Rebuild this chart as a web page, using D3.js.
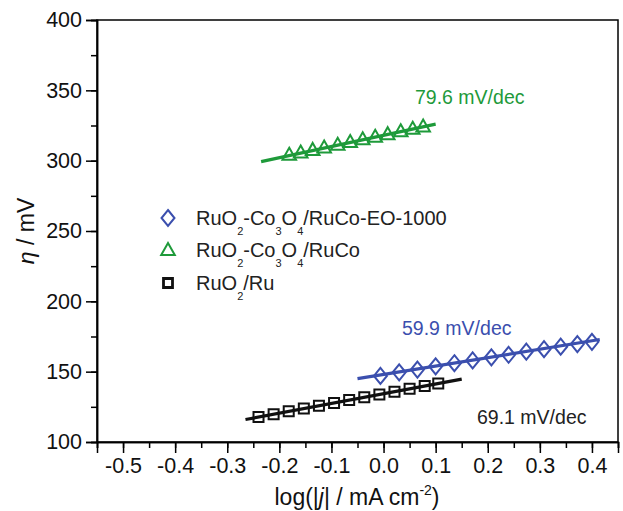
<!DOCTYPE html>
<html><head><meta charset="utf-8">
<script src="https://cdn.jsdelivr.net/npm/d3@7"></script>
<style>
html,body{margin:0;padding:0;background:#fff;}
svg{display:block;font-family:"Liberation Sans",Arial,sans-serif;}
</style></head>
<body>
<svg id="c" width="623" height="511"></svg>
<script>
// ---- data ----
const xTicks = [-0.5,-0.4,-0.3,-0.2,-0.1,0.0,0.1,0.2,0.3,0.4];
const yTicks = [100,150,200,250,300,350,400];

const blueX = [-0.006,0.030,0.065,0.100,0.136,0.171,0.207,0.240,0.274,0.308,0.340,0.372,0.400];
const blueY = [147.0,149.5,151.5,153.8,156.0,158.0,160.2,162.0,164.2,166.0,167.8,169.6,171.2];
const blueFit = {x:[-0.05,0.415], slope:59.9, b:148.0};

const greenX = [-0.181,-0.159,-0.136,-0.114,-0.088,-0.064,-0.040,-0.016,0.008,0.033,0.056,0.076];
const greenY = [303.8,305.5,307.3,309.0,311.0,312.9,314.8,316.6,318.5,320.5,322.3,324.0];
const greenFit = {x:[-0.235,0.10], slope:79.6, b:318.0};

const blackX = [-0.240,-0.211,-0.182,-0.153,-0.124,-0.095,-0.066,-0.037,-0.008,0.021,0.050,0.079,0.105];
const blackY = [117.8,119.8,121.8,123.8,125.8,127.8,129.8,131.8,133.8,135.8,137.8,139.8,141.6];
const blackFit = {x:[-0.265,0.15], slope:69.1, b:134.3};

const legendLabels = [
  [["RuO",0],["2",1],["-Co",0],["3",1],["O",0],["4",1],["/RuCo-EO-1000",0]],
  [["RuO",0],["2",1],["-Co",0],["3",1],["O",0],["4",1],["/RuCo",0]],
  [["RuO",0],["2",1],["/Ru",0]]
];
const slopeLabels = ["59.9 mV/dec","79.6 mV/dec","69.1 mV/dec"];

const BLUE="#3b4fae", GREEN="#1e9a3a", BLACK="#111";

// ---- layout ----
const L=97, R=618, T=20, B=442;
const svg = d3.select("#c");
const x = d3.scaleLinear().domain([-0.55,0.45]).range([L,R]);
const y = d3.scaleLinear().domain([100,400]).range([B,T]);

// frame
svg.append("rect").attr("x",L).attr("y",T).attr("width",R-L).attr("height",B-T)
  .attr("fill","none").attr("stroke","#000").attr("stroke-width",1.5);

// axes
const xMinor = d3.range(-0.55,0.451,0.05);
const yMinor = d3.range(100,401,25);
const gx = svg.append("g").attr("transform",`translate(0,${B})`);
gx.call(d3.axisBottom(x).tickValues(xMinor).tickSize(6).tickFormat(""));
gx.append("g").call(d3.axisBottom(x).tickValues(xTicks).tickSize(11).tickPadding(5).tickFormat(d=>d.toFixed(1)));
gx.selectAll("path.domain").attr("stroke-width",1.5);
gx.selectAll("line").attr("stroke-width",1.5);
gx.selectAll("text").attr("font-size",21.5).attr("fill","#111").attr("font-family","Liberation Sans, Arial, sans-serif");

const gy = svg.append("g").attr("transform",`translate(${L},0)`);
gy.call(d3.axisLeft(y).tickValues(yMinor).tickSize(6).tickFormat(""));
gy.append("g").call(d3.axisLeft(y).tickValues(yTicks).tickSize(11).tickPadding(4).tickFormat(d=>String(d)));
gy.selectAll("path.domain").attr("stroke-width",1.5);
gy.selectAll("line").attr("stroke-width",1.5);
gy.selectAll("text").attr("font-size",21.5).attr("fill","#111").attr("font-family","Liberation Sans, Arial, sans-serif");

// axis titles
const xt = svg.append("text").attr("x",357).attr("y",505).attr("text-anchor","middle")
  .attr("font-size",23).attr("fill","#111");
xt.append("tspan").text("log(|");
xt.append("tspan").attr("font-style","italic").text("j");
xt.append("tspan").text("| / mA cm");
xt.append("tspan").attr("font-size",14).attr("dy",-10).text("-2");
xt.append("tspan").attr("dy",10).text(")");

const yt = svg.append("text").attr("transform","translate(34,231) rotate(-90)")
  .attr("text-anchor","middle").attr("font-size",23).attr("fill","#111");
yt.append("tspan").attr("font-style","italic").text("η");
yt.append("tspan").text(" / mV");

// fit lines
function fitLine(f,color){
  svg.append("line").attr("x1",x(f.x[0])).attr("y1",y(f.b+f.slope*f.x[0]))
    .attr("x2",x(f.x[1])).attr("y2",y(f.b+f.slope*f.x[1]))
    .attr("stroke",color).attr("stroke-width",3.2);
}
fitLine(greenFit,GREEN); fitLine(blueFit,BLUE); fitLine(blackFit,BLACK);

// markers
const diamond = "M0,-8L6.5,0L0,8L-6.5,0Z";
const triangle = "M0,-7.5L6.8,4.5L-6.8,4.5Z";
const square = "M-5,-5H5V5H-5Z";
function pts(xs,ys,path,color,sw){
  svg.append("g").selectAll("path").data(xs.map((v,i)=>[v,ys[i]])).join("path")
    .attr("d",path).attr("transform",d=>`translate(${x(d[0])},${y(d[1])})`)
    .attr("fill","none").attr("stroke",color).attr("stroke-width",sw);
}
pts(greenX,greenY,triangle,GREEN,2);
pts(blueX,blueY,diamond,BLUE,2);
pts(blackX,blackY,square,BLACK,2);

// slope labels
const slopePos=[[402,335,BLUE],[415,104,GREEN],[477,424,"#222"]];
slopeLabels.forEach((t,i)=>{
  svg.append("text").attr("x",slopePos[i][0]).attr("y",slopePos[i][1])
    .attr("font-size",19.5).attr("fill",slopePos[i][2]).text(t);
});

// legend
const legMarks=[["M0,-8L6.5,0L0,8L-6.5,0Z",BLUE,2],["M0,-7L6.8,5L-6.8,5Z",GREEN,2],["M-4.5,-4.5H4.5V4.5H-4.5Z",BLACK,2.8]];
const legY=[218,250,283];
legendLabels.forEach((parts,i)=>{
  svg.append("path").attr("d",legMarks[i][0]).attr("transform",`translate(168,${legY[i]})`)
    .attr("fill","none").attr("stroke",legMarks[i][1]).attr("stroke-width",legMarks[i][2]);
  const t=svg.append("text").attr("x",196).attr("y",legY[i]+7).attr("font-size",20).attr("fill","#222");
  let prevSub=false;
  parts.forEach(([s,sub])=>{
    const ts=t.append("tspan").text(s);
    if(sub){ts.attr("font-size",11).attr("dy",prevSub?0:10);}
    else if(prevSub){ts.attr("dy",-10);}
    prevSub=!!sub;
  });
});
</script>
</body></html>
